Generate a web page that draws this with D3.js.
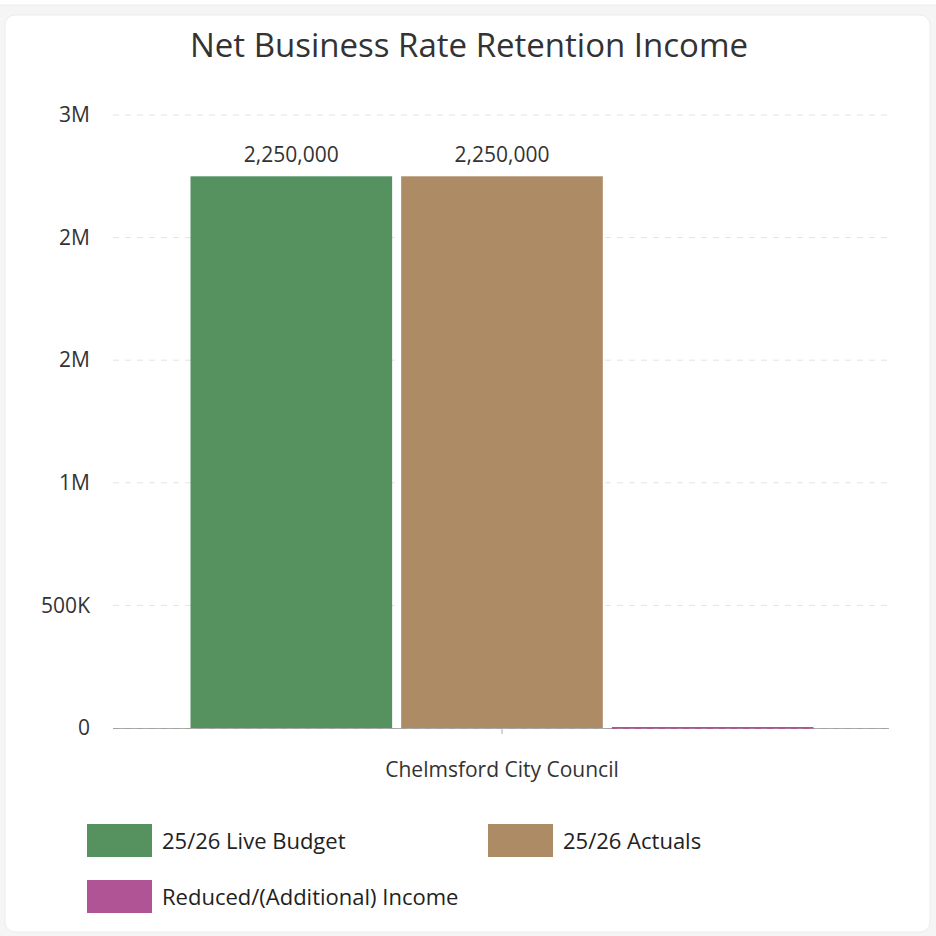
<!DOCTYPE html>
<html>
<head>
<meta charset="utf-8">
<script src="https://cdn.jsdelivr.net/npm/d3@7"></script>
<style>
  html, body { margin: 0; padding: 0; background: #f5f5f5; }
  body { width: 936px; height: 936px; overflow: hidden; font-family: "Open Sans", sans-serif; }
</style>
</head>
<body>
<svg id="chart" width="936" height="936"></svg>
<script>
// Chart data
const categories = ["Chelmsford City Council"];
const seriesNames = ["25/26 Live Budget", "25/26 Actuals", "Reduced/(Additional) Income"];
const seriesColors = ["#559260", "#ad8b65", "#b05496"];
const liveBudget = [2250000];
const actuals = [2250000];
const reducedIncome = [0];
const yTickValues = [0, 500000, 1000000, 1500000, 2000000, 2500000];
const yTickLabels = ["0", "500K", "1M", "2M", "2M", "3M"];

const seriesValues = [liveBudget, actuals, reducedIncome];

const svg = d3.select("#chart");

// card background
svg.append("rect").attr("x", -10).attr("y", -20).attr("width", 956).attr("height", 25)
  .attr("rx", 10).attr("fill", "#ffffff").attr("stroke", "#ececec");
svg.append("rect").attr("x", 5).attr("y", 15).attr("width", 925).attr("height", 917)
  .attr("rx", 10).attr("fill", "#ffffff").attr("stroke", "#ececec");

svg.append("text")
  .attr("x", 469).attr("y", 57)
  .attr("text-anchor", "middle")
  .attr("font-size", 33)
  .attr("fill", "#333333")
  .text("Net Business Rate Retention Income");

const margin = { left: 113, right: 889, top: 115, bottom: 728 };

const x0 = d3.scaleBand().domain(categories).range([margin.left + 1, margin.right + 1]).paddingInner(0).paddingOuter(0.1228);
const x1 = d3.scaleBand().domain(seriesNames).range([0, x0.bandwidth()]).paddingInner(0.043).paddingOuter(0);
const y = d3.scaleLinear().domain([0, 2500000]).range([margin.bottom, margin.top]);

// gridlines
svg.append("g").selectAll("line").data(yTickValues.filter(v => v > 0)).join("line")
  .attr("x1", margin.left).attr("x2", margin.right)
  .attr("y1", d => y(d)).attr("y2", d => y(d))
  .attr("stroke", "#e3e3e3").attr("stroke-dasharray", "6,6");

// y axis labels
const yAxis = d3.axisLeft(y).tickValues(yTickValues)
  .tickFormat((d, i) => yTickLabels[i]).tickSize(0).tickPadding(23);
const yg = svg.append("g").attr("transform", `translate(${margin.left},0)`).call(yAxis);
yg.select(".domain").remove();
yg.selectAll("text").attr("font-size", 21).attr("fill", "#333333").attr("font-family", "Open Sans");

// x axis baseline
svg.append("line")
  .attr("x1", margin.left).attr("x2", margin.right)
  .attr("y1", y(0) + 0.5).attr("y2", y(0) + 0.5)
  .attr("stroke", "#aaaaaa").attr("stroke-width", 1);

// bars
const groups = svg.append("g").selectAll("g").data(categories).join("g")
  .attr("transform", d => `translate(${x0(d)},0)`);

groups.selectAll("rect")
  .data((d, ci) => seriesNames.map((s, si) => ({ s, si, v: seriesValues[si][ci] })))
  .join("rect")
  .attr("x", d => x1(d.s))
  .attr("width", x1.bandwidth())
  .attr("y", d => d.v === 0 ? y(0) - 1 : y(d.v))
  .attr("height", d => d.v === 0 ? 2 : y(0) - y(d.v))
  .attr("fill", d => seriesColors[d.si]);

// value labels
groups.selectAll("text.val")
  .data((d, ci) => seriesNames.map((s, si) => ({ s, si, v: seriesValues[si][ci] })).filter(d => d.v > 0))
  .join("text")
  .attr("class", "val")
  .attr("x", d => x1(d.s) + x1.bandwidth() / 2)
  .attr("y", d => y(d.v) - 14)
  .attr("text-anchor", "middle")
  .attr("font-size", 21)
  .attr("fill", "#333333")
  .text(d => d3.format(",")(d.v));

// dashed zero gridline over the bars
svg.append("line")
  .attr("x1", margin.left).attr("x2", margin.right)
  .attr("y1", y(0) + 0.5).attr("y2", y(0) + 0.5)
  .attr("stroke", "#999999").attr("stroke-opacity", 0.5).attr("stroke-dasharray", "6,6");

const xAxis = d3.axisBottom(x0).tickSize(6).tickPadding(28);
const xg = svg.append("g").attr("transform", `translate(0,${y(0)})`).call(xAxis);
xg.select(".domain").remove();
xg.selectAll("line").attr("stroke", "#aaaaaa");
xg.selectAll("text").attr("font-size", 21).attr("fill", "#333333").attr("font-family", "Open Sans");

// legend
const legendPos = [[87, 824], [488, 824], [87, 880]];
const legend = svg.append("g").selectAll("g").data(seriesNames).join("g")
  .attr("transform", (d, i) => `translate(${legendPos[i][0]},${legendPos[i][1]})`);
legend.append("rect").attr("width", 65).attr("height", 33)
  .attr("fill", (d, i) => seriesColors[i]);
legend.append("text").attr("x", 75).attr("y", 17).attr("dy", "0.35em")
  .attr("font-size", 22).attr("fill", "#222222")
  .text(d => d);
</script>
</body>
</html>
